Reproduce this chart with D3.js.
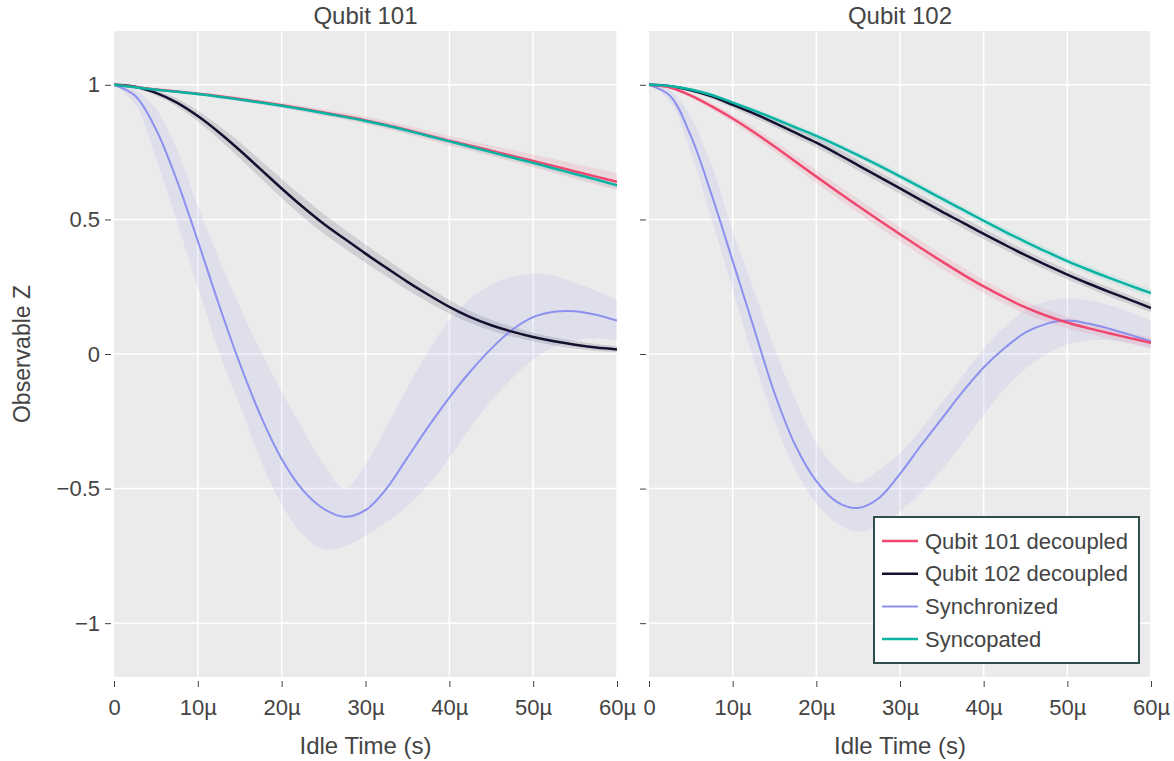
<!DOCTYPE html>
<html>
<head>
<meta charset="utf-8">
<script src="https://cdn.jsdelivr.net/npm/d3@7"></script>
<style>
  body { margin: 0; background: #fff; }
  svg text { font-family: "Liberation Sans", Arial, sans-serif; fill: #444; }
</style>
</head>
<body>
<div id="chart"></div>
<script>
// idle time in microseconds
const times = [0, 2.5, 5, 7.5, 10, 12.5, 15, 17.5, 20, 22.5, 25, 27.5, 30, 32.5, 35, 37.5, 40, 42.5, 45, 47.5, 50, 52.5, 55, 57.5, 60];
const xTicks = [0, 10, 20, 30, 40, 50, 60];
const yTicks = [-1, -0.5, 0, 0.5, 1];
const panelTitles = ['Qubit 101', 'Qubit 102'];
const seriesNames = ['Qubit 101 decoupled', 'Qubit 102 decoupled', 'Synchronized', 'Syncopated'];
const seriesColors = ['#ef476f', '#13112f', '#8c90ef', '#08b3a4'];

// ---- panel Qubit 101
const p1Dec101 = [1, 0.992, 0.983, 0.975, 0.967, 0.958, 0.947, 0.936, 0.924, 0.911, 0.897, 0.883, 0.868, 0.851, 0.832, 0.812, 0.792, 0.774, 0.755, 0.736, 0.717, 0.698, 0.678, 0.659, 0.64];
const p1Dec101Err = [0, 0.002, 0.004, 0.005, 0.006, 0.007, 0.008, 0.009, 0.01, 0.011, 0.012, 0.013, 0.014, 0.015, 0.016, 0.017, 0.018, 0.019, 0.02, 0.022, 0.024, 0.026, 0.028, 0.03, 0.032];
const p1Dec102 = [1, 0.993, 0.97, 0.934, 0.884, 0.824, 0.757, 0.686, 0.615, 0.547, 0.484, 0.428, 0.373, 0.32, 0.268, 0.22, 0.175, 0.137, 0.107, 0.083, 0.063, 0.047, 0.034, 0.024, 0.017];
const p1Dec102Err = [0, 0.005, 0.01, 0.015, 0.02, 0.025, 0.03, 0.033, 0.035, 0.036, 0.036, 0.035, 0.034, 0.032, 0.03, 0.028, 0.025, 0.022, 0.02, 0.018, 0.016, 0.015, 0.014, 0.013, 0.012];
const p1Sync = [1, 0.96, 0.835, 0.645, 0.42, 0.185, -0.035, -0.23, -0.39, -0.505, -0.575, -0.605, -0.58, -0.5, -0.385, -0.27, -0.162, -0.065, 0.02, 0.09, 0.137, 0.157, 0.159, 0.146, 0.124];
const p1SyncLo = [1, 0.93, 0.73, 0.49, 0.25, 0.01, -0.19, -0.395, -0.56, -0.67, -0.725, -0.715, -0.675, -0.625, -0.565, -0.485, -0.385, -0.275, -0.175, -0.09, -0.02, 0.025, 0.05, 0.058, 0.052];
const p1SyncHi = [1, 0.98, 0.91, 0.76, 0.55, 0.355, 0.175, 0.01, -0.14, -0.28, -0.41, -0.5, -0.41, -0.27, -0.125, 0.01, 0.125, 0.205, 0.258, 0.287, 0.297, 0.29, 0.265, 0.235, 0.2];
const p1Synco = [1, 0.991, 0.982, 0.974, 0.966, 0.956, 0.945, 0.934, 0.922, 0.909, 0.895, 0.881, 0.866, 0.849, 0.83, 0.81, 0.79, 0.77, 0.75, 0.73, 0.71, 0.689, 0.669, 0.648, 0.627];
const p1SyncoErr = [0, 0.002, 0.003, 0.004, 0.005, 0.005, 0.006, 0.006, 0.007, 0.007, 0.008, 0.008, 0.009, 0.009, 0.01, 0.01, 0.011, 0.011, 0.012, 0.012, 0.013, 0.013, 0.014, 0.014, 0.015];

// ---- panel Qubit 102
const p2Dec101 = [1, 0.99, 0.96, 0.92, 0.875, 0.825, 0.771, 0.715, 0.659, 0.604, 0.55, 0.497, 0.445, 0.394, 0.344, 0.296, 0.251, 0.21, 0.173, 0.142, 0.117, 0.096, 0.077, 0.059, 0.042];
const p2Dec101Err = [0, 0.004, 0.008, 0.012, 0.015, 0.018, 0.02, 0.022, 0.024, 0.025, 0.026, 0.027, 0.027, 0.027, 0.027, 0.026, 0.025, 0.024, 0.023, 0.022, 0.021, 0.02, 0.02, 0.019, 0.019];
const p2Dec102 = [1, 0.995, 0.98, 0.957, 0.926, 0.894, 0.859, 0.822, 0.785, 0.744, 0.701, 0.658, 0.615, 0.572, 0.529, 0.488, 0.446, 0.406, 0.367, 0.33, 0.295, 0.262, 0.231, 0.201, 0.171];
const p2Dec102Err = [0, 0.003, 0.006, 0.009, 0.012, 0.014, 0.016, 0.017, 0.018, 0.019, 0.02, 0.02, 0.02, 0.02, 0.02, 0.02, 0.02, 0.019, 0.019, 0.018, 0.018, 0.017, 0.017, 0.016, 0.016];
const p2Sync = [1, 0.96, 0.81, 0.59, 0.346, 0.1, -0.145, -0.34, -0.472, -0.55, -0.572, -0.535, -0.445, -0.34, -0.24, -0.14, -0.05, 0.022, 0.08, 0.112, 0.124, 0.113, 0.094, 0.071, 0.047];
const p2SyncLo = [1, 0.94, 0.75, 0.5, 0.24, -0.02, -0.25, -0.43, -0.555, -0.63, -0.66, -0.635, -0.585, -0.515, -0.43, -0.33, -0.225, -0.13, -0.055, 0.0, 0.035, 0.05, 0.05, 0.038, 0.02];
const p2SyncHi = [1, 0.98, 0.88, 0.7, 0.46, 0.24, 0.02, -0.17, -0.33, -0.43, -0.48, -0.43, -0.37, -0.28, -0.18, -0.08, 0.02, 0.1, 0.165, 0.195, 0.206, 0.2, 0.182, 0.156, 0.125];
const p2Synco = [1, 0.996, 0.983, 0.962, 0.934, 0.905, 0.874, 0.842, 0.81, 0.775, 0.738, 0.7, 0.66, 0.619, 0.577, 0.536, 0.495, 0.455, 0.417, 0.38, 0.345, 0.313, 0.283, 0.254, 0.226];
const p2SyncoErr = [0, 0.002, 0.004, 0.006, 0.008, 0.009, 0.01, 0.011, 0.012, 0.012, 0.013, 0.013, 0.014, 0.014, 0.014, 0.014, 0.015, 0.015, 0.015, 0.015, 0.015, 0.015, 0.015, 0.015, 0.015];

const withErr = (vals, err) => ({ vals, lo: vals.map((v, i) => v - err[i]), hi: vals.map((v, i) => v + err[i]) });

const panels = [
  {
    title: panelTitles[0], left: 114, right: 617,
    series: [
      withErr(p1Dec101, p1Dec101Err),
      withErr(p1Dec102, p1Dec102Err),
      { vals: p1Sync, lo: p1SyncLo, hi: p1SyncHi },
      withErr(p1Synco, p1SyncoErr),
    ],
  },
  {
    title: panelTitles[1], left: 649, right: 1151,
    series: [
      withErr(p2Dec101, p2Dec101Err),
      withErr(p2Dec102, p2Dec102Err),
      { vals: p2Sync, lo: p2SyncLo, hi: p2SyncHi },
      withErr(p2Synco, p2SyncoErr),
    ],
  },
];
// draw order: bands first, then lines (sync underneath the others)
const drawOrder = [2, 1, 0, 3];
const bandOpacity = [0.12, 0.12, 0.13, 0.1];
const lineWidth = [2.5, 2.5, 2, 2.5];

const plotTop = 31, plotBottom = 677;
const svg = d3.select('#chart').append('svg').attr('width', 1174).attr('height', 761);

const y = d3.scaleLinear().domain([-1.2, 1.2]).range([plotBottom, plotTop]);
const fmtY = d => d3.format('')(d).replace('-', '\u2212');
const curve = d3.curveCatmullRom.alpha(0.5);

panels.forEach((p, pi) => {
  const x = d3.scaleLinear().domain([0, 60]).range([p.left, p.right]);
  const clipId = 'clip' + pi;
  svg.append('clipPath').attr('id', clipId)
    .append('rect').attr('x', p.left).attr('y', plotTop).attr('width', p.right - p.left).attr('height', plotBottom - plotTop);

  svg.append('rect').attr('x', p.left).attr('y', plotTop)
    .attr('width', p.right - p.left).attr('height', plotBottom - plotTop).attr('fill', '#ebebeb');

  // grid
  svg.append('g').selectAll('line').data(xTicks.slice(1)).join('line')
    .attr('x1', d => x(d)).attr('x2', d => x(d)).attr('y1', plotTop).attr('y2', plotBottom)
    .attr('stroke', '#fff').attr('stroke-width', 1.5);
  svg.append('g').selectAll('line').data(yTicks).join('line')
    .attr('x1', p.left).attr('x2', p.right).attr('y1', d => y(d)).attr('y2', d => y(d))
    .attr('stroke', '#fff').attr('stroke-width', 1.5);

  // x axis
  const xAxis = svg.append('g').attr('transform', `translate(0,${plotBottom + 4})`)
    .call(d3.axisBottom(x).tickValues(xTicks).tickSize(6).tickPadding(12)
      .tickFormat(d => d === 0 ? '0' : d + 'µ'));
  xAxis.select('.domain').remove();
  xAxis.selectAll('.tick line').attr('stroke', '#444');
  xAxis.selectAll('.tick text').attr('font-size', 22).attr('fill', '#444');

  // y axis
  const yAxis = svg.append('g').attr('transform', `translate(${p.left - 3},0)`)
    .call(d3.axisLeft(y).tickValues(yTicks).tickSize(6).tickPadding(5)
      .tickFormat(pi === 0 ? fmtY : () => ''));
  yAxis.select('.domain').remove();
  yAxis.selectAll('.tick line').attr('stroke', '#444');
  yAxis.selectAll('.tick text').attr('font-size', 22).attr('fill', '#444');

  const plot = svg.append('g').attr('clip-path', `url(#${clipId})`);
  const area = d3.area().curve(curve)
    .x((d, i) => x(times[i])).y0(d => y(d[0])).y1(d => y(d[1]));
  const line = d3.line().curve(curve)
    .x((d, i) => x(times[i])).y(d => y(d));

  drawOrder.forEach(si => {
    const s = p.series[si];
    plot.append('path')
      .datum(s.lo.map((v, i) => [v, s.hi[i]]))
      .attr('d', area)
      .attr('fill', seriesColors[si]).attr('fill-opacity', bandOpacity[si]);
  });
  drawOrder.forEach(si => {
    const s = p.series[si];
    plot.append('path').datum(s.vals).attr('d', line)
      .attr('fill', 'none').attr('stroke', seriesColors[si]).attr('stroke-width', lineWidth[si]);
  });

  // titles
  const cx = (p.left + p.right) / 2;
  svg.append('text').attr('x', cx).attr('y', 24).attr('text-anchor', 'middle')
    .attr('font-size', 24).text(p.title);
  svg.append('text').attr('x', cx).attr('y', 754).attr('text-anchor', 'middle')
    .attr('font-size', 24).text('Idle Time (s)');
});

svg.append('text').attr('transform', `translate(30,${y(0)}) rotate(-90)`)
  .attr('text-anchor', 'middle').attr('font-size', 23).text('Observable Z');

// legend
const lg = svg.append('g').attr('transform', 'translate(874,517)');
lg.append('rect').attr('width', 265).attr('height', 146)
  .attr('fill', '#fff').attr('stroke', '#2f4f4f').attr('stroke-width', 2);
const row = lg.selectAll('g.item').data(seriesNames).join('g').attr('class', 'item')
  .attr('transform', (d, i) => `translate(0,${24 + i * 32.7})`);
row.append('line').attr('x1', 8).attr('x2', 44)
  .attr('stroke', (d, i) => seriesColors[i]).attr('stroke-width', (d, i) => lineWidth[i]);
row.append('text').attr('x', 51).attr('dy', '0.35em').attr('font-size', 22).text(d => d);
</script>
</body>
</html>
